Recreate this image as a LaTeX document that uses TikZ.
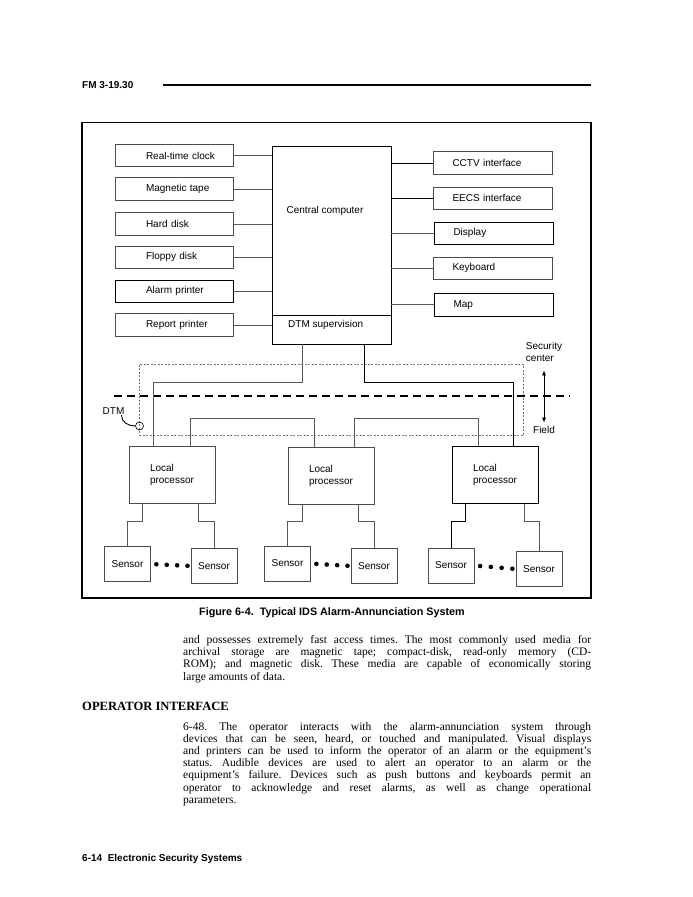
\documentclass[tikz,border=0pt]{standalone}
\usepackage{fontspec}
\setmainfont{Liberation Serif}
\setsansfont{Liberation Sans}
\usetikzlibrary{arrows.meta,positioning,calc}

\newcommand\lblfont{\sffamily\fontsize{10}{12}\selectfont}
\newcommand\bodyfont{\rmfamily\fontsize{11.5}{12.2}\selectfont\tolerance=9999\frenchspacing }
\newcommand\headfont{\sffamily\bfseries\fontsize{10}{12}\selectfont}

\begin{document}
\begin{tikzpicture}[x=1pt,y=-1pt,>=Latex,
  wire/.style={draw=black!65, line width=0.6pt},
  dark/.style={draw=black, line width=0.9pt},
  indent/.style={execute at begin node={\hspace*{#1}}},
  devbox/.style={draw=black!70, line width=0.6pt, minimum height=22.5pt, inner xsep=4pt, inner ysep=0pt, align=left, font=\lblfont},
  leftbox/.style={devbox, text width=110pt, indent=27pt},
  rightbox/.style={devbox, text width=111pt, indent=15pt},
  procbox/.style={draw=black!70, line width=0.6pt, minimum width=86pt, minimum height=57pt, align=left, font=\lblfont},
  sensbox/.style={draw=black!70, line width=0.6pt, minimum width=46pt, minimum height=35pt, inner sep=0pt, font=\lblfont},
  lbl/.style={inner sep=0pt, font=\lblfont}]

\fill[white] (0,0) rectangle (693,897);

% page header
\node[anchor=west, inner sep=0pt, font=\headfont] (hdr) at (82,85) {FM 3-19.30};
\draw[line width=1.3pt] (163,85) -- (591,85);

% figure frame
\draw[line width=1.1pt] (82,122.5) rectangle (591,598);

% storage and printers
\node[leftbox] (rtc) at (174,155.5) {Real-time clock};
\node[leftbox] (tape) at (174,189) {Magnetic tape};
\node[leftbox] (hdd) at (174,224) {Hard disk};
\node[leftbox] (fdd) at (174,257.2) {Floppy disk};
\node[leftbox, dark] (aprn) at (174,291.2) {Alarm printer};
\node[leftbox] (rprn) at (174,325) {Report printer};

% central computer
\node[draw=black, line width=0.8pt, minimum width=119pt, minimum height=198pt, inner sep=0pt] (cpu) at (331.5,245) {};
\draw[dark] (cpu.west |- 0,315) -- (cpu.east |- 0,315);
\node[lbl] (cputxt) at (325,211) {Central computer};
\node[lbl, anchor=west] (dtmsup) at (288,325) {DTM supervision};

% interfaces
\node[rightbox] (cctv) at (493,163) {CCTV interface};
\node[rightbox] (eecs) at (493,198.2) {EECS interface};
\node[rightbox, dark] (disp) at (494,233.2) {Display};
\node[rightbox] (kbd) at (493,268.3) {Keyboard};
\node[rightbox, dark] (map) at (494,304.7) {Map};

\foreach \dev in {rtc,tape,hdd,fdd,aprn,rprn}
  \draw[wire] (\dev.east) -- (\dev.east -| cpu.west);
\foreach \dev in {disp,kbd,map}
  \draw[wire] (\dev.west) -- (\dev.west -| cpu.east);
\foreach \dev in {cctv,eecs}
  \draw[dark] (\dev.west) -- (\dev.west -| cpu.east);

% security center / field boundary
\draw[black!55, line width=0.6pt, dash pattern=on 2pt off 1.5pt] (139.5,364.5) rectangle (523.5,435);
\draw[line width=1.8pt, dash pattern=on 8pt off 5pt] (114,396) -- (570,396);
\node[lbl, align=left] (sec) at (544,352) {Security\\center};
\node[lbl] (fld) at (544,430) {Field};
\draw[line width=0.7pt, {Latex[length=5pt,width=4pt]}-{Latex[length=5pt,width=4pt]}] ([yshift=-8.5pt]sec.south) -- ([yshift=3.5pt]fld.north);

% line supervision point
\node[lbl] (dtmlbl) at (113.5,411.5) {DTM};
\node[circle, draw, line width=0.6pt, minimum size=8pt, inner sep=0pt] (ring) at (139.5,426) {};
\draw[line width=0.9pt] ([xshift=8pt]dtmlbl.south) .. controls +(0,7) and +(-7,0) .. (ring.west);

% local processors
\node[procbox] (lp1) at (172,475) {Local\\processor};
\node[procbox] (lp2) at (331,476) {Local\\processor};
\node[procbox, dark] (lp3) at (495,475) {Local\\processor};

\draw[wire] ([xshift=-29.5pt]cpu.south) -- ++(0,38) -| ([xshift=-19pt]lp1.north);
\draw[dark] ([xshift=32.5pt]cpu.south) -- ++(0,38) -| ([xshift=18pt]lp3.north);
\draw[wire] ([xshift=18pt]lp1.north) -- ++(0,-27.5) -| ([xshift=-17pt]lp2.north);
\draw[wire] ([xshift=23pt]lp2.north) -- ++(0,-28.5) -| ([xshift=-17pt]lp3.north);

% sensors
\node[sensbox] (s1) at (127.5,564) {Sensor};
\node[sensbox] (s2) at (214,566) {Sensor};
\node[sensbox] (s3) at (287.5,563.5) {Sensor};
\node[sensbox] (s4) at (374,566) {Sensor};
\node[sensbox] (s5) at (451,565.5) {Sensor};
\node[sensbox] (s6) at (539,569) {Sensor};

\draw[wire] ([xshift=-30pt]lp1.south) -- ++(0,17.5) -| (s1.north);
\draw[wire] ([xshift=26pt]lp1.south) -- ++(0,17.5) -| (s2.north);
\draw[wire] ([xshift=-29pt]lp2.south) -- ++(0,16.5) -| (s3.north);
\draw[wire] ([xshift=27pt]lp2.south) -- ++(0,16.5) -| (s4.north);
\draw[dark] ([xshift=-30pt]lp3.south) -- ++(0,17.5) -| (s5.north);
\draw[wire] ([xshift=29pt]lp3.south) -- ++(0,17.5) -| (s6.north);

\foreach \a/\b in {s1/s2,s3/s4,s5/s6}
  \foreach \t in {0.14,0.40,0.66,0.92}
    \fill ($(\a.east)!\t!(\b.west)$) circle (2.3pt);

% caption and text
\node[font=\sffamily\bfseries\fontsize{10.8}{13}\selectfont, inner sep=0pt] (cap) at (332,613) {Figure 6-4.\ \ Typical IDS Alarm-Annunciation System};

\node[anchor=base west, text width=408pt, align=justify, inner sep=0pt, font=\bodyfont] (para1) at (183,643.5)
  {and possesses extremely fast access times. The most commonly used media for\linebreak
   archival storage are magnetic tape; compact-disk, read-only memory (CD-\linebreak
   ROM); and magnetic disk. These media are capable of economically storing\linebreak
   large amounts of data.};

\node[anchor=base west, inner sep=0pt, font=\rmfamily\bfseries\fontsize{12.6}{14}\selectfont] (opint) at (82,710) {OPERATOR INTERFACE};

\node[anchor=base west, text width=408pt, align=justify, inner sep=0pt, font=\bodyfont] (para2) at (183,730)
  {6-48. The operator interacts with the alarm-annunciation system through\linebreak
   devices that can be seen, heard, or touched and manipulated. Visual displays\linebreak
   and printers can be used to inform the operator of an alarm or the equipment's\linebreak
   status. Audible devices are used to alert an operator to an alarm or the\linebreak
   equipment's failure. Devices such as push buttons and keyboards permit an\linebreak
   operator to acknowledge and reset alarms, as well as change operational\linebreak
   parameters.};

% page footer
\node[anchor=west, inner sep=0pt, font=\headfont] (ftr) at (82,859) {6-14\ \ Electronic Security Systems};
\end{tikzpicture}
\end{document}
